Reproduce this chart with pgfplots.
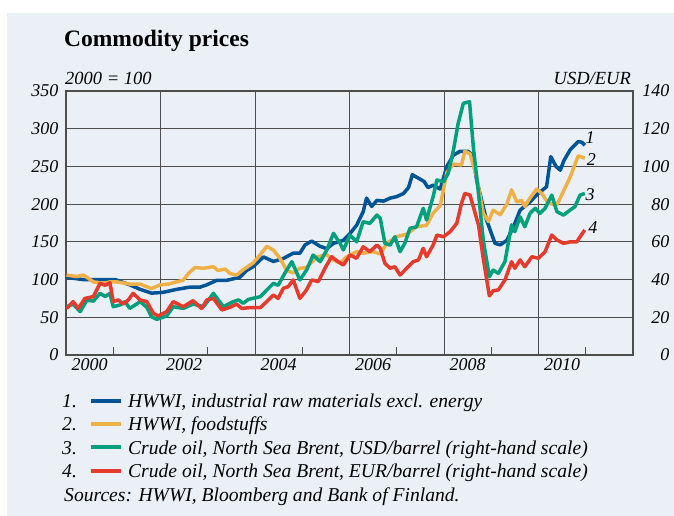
\documentclass[border=0pt]{standalone}
\usepackage{pgfplots}
\pgfplotsset{compat=1.18}
\usepackage{fontspec}
\setmainfont{Liberation Serif}
\definecolor{hwblue}{HTML}{005496}
\definecolor{hwyellow}{HTML}{F0B048}
\definecolor{hwgreen}{HTML}{00A07C}
\definecolor{hwred}{HTML}{E53A2C}
\definecolor{panel}{HTML}{EBF0F7}
\definecolor{gridc}{HTML}{4D4D4D}

\pgfplotstableread{
x y
2000.01 103
2000.36 100
2000.72 100
2001.04 100
2001.35 93
2001.57 87
2001.81 82
2002.05 83
2002.34 87
2002.62 90
2002.84 90
2002.98 93
2003.19 99
2003.40 99
2003.68 103
2003.82 112
2003.96 117
2004.18 130
2004.39 124
2004.60 128
2004.81 135
2004.95 135
2005.06 146
2005.20 151
2005.38 144
2005.52 141
2005.66 148
2005.87 152
2006.01 161
2006.15 172
2006.29 190
2006.36 208
2006.47 197
2006.58 205
2006.72 204
2006.86 208
2007.00 210
2007.14 214
2007.25 222
2007.33 239
2007.47 234
2007.58 230
2007.66 222
2007.77 225
2007.92 220
2008.06 250
2008.20 265
2008.34 270
2008.51 270
2008.61 265
2008.69 232
2008.90 179
2009.08 148
2009.19 146
2009.33 152
2009.47 170
2009.61 192
2009.82 203
2009.99 214
2010.17 223
2010.26 263
2010.37 250
2010.46 245
2010.54 258
2010.67 272
2010.84 283
2010.92 282
2010.98 278
}\bluetab

\pgfplotstableread{
x y
2000.01 106
2000.23 104
2000.37 106
2000.58 97
2000.79 95
2000.93 97
2001.07 97
2001.35 94
2001.57 94
2001.81 88
2001.99 93
2002.17 94
2002.34 97
2002.48 99
2002.59 108
2002.73 116
2002.91 115
2003.12 117
2003.22 112
2003.37 114
2003.47 108
2003.61 106
2003.75 113
2003.96 122
2004.11 133
2004.25 144
2004.39 139
2004.53 128
2004.67 112
2004.81 109
2004.95 115
2005.09 116
2005.31 130
2005.52 133
2005.66 126
2005.80 122
2005.94 130
2006.15 137
2006.29 135
2006.50 137
2006.65 134
2006.79 148
2007.00 157
2007.21 160
2007.42 170
2007.63 172
2007.77 188
2007.92 198
2008.06 242
2008.20 253
2008.37 252
2008.44 270
2008.55 267
2008.69 236
2008.83 188
2008.94 177
2009.04 192
2009.19 186
2009.33 200
2009.43 219
2009.54 203
2009.64 205
2009.71 197
2009.82 208
2009.96 220
2010.07 214
2010.21 201
2010.39 199
2010.49 212
2010.67 236
2010.84 264
2010.98 261
}\yellowtab

\pgfplotstableread{
x y
2000.01 25.6
2000.15 27
2000.30 23
2000.44 29
2000.58 28.6
2000.72 32.7
2000.83 31
2000.93 32.7
2001.00 25.6
2001.14 26.5
2001.25 28.3
2001.35 24.7
2001.57 28.3
2001.71 25.3
2001.81 20.3
2001.92 18.9
2002.13 20.7
2002.27 25.6
2002.48 24.7
2002.69 27
2002.91 25.6
2003.12 32.7
2003.33 25.6
2003.54 28.3
2003.65 29.2
2003.75 27.4
2003.86 29.5
2004.11 30.9
2004.25 34.5
2004.39 38
2004.49 37
2004.63 43.3
2004.78 49.5
2004.95 39.8
2005.09 45
2005.23 53
2005.38 49.5
2005.52 55.7
2005.66 64.5
2005.80 59.2
2005.87 55.7
2006.01 63.6
2006.15 60
2006.29 70.7
2006.43 69.8
2006.58 74.2
2006.65 72.5
2006.75 59.2
2006.86 58.3
2006.96 62.7
2007.07 54.8
2007.17 59.2
2007.28 67.2
2007.42 68
2007.56 77.8
2007.63 71.6
2007.77 84
2007.85 92.8
2007.99 91.9
2008.09 96.4
2008.20 108.7
2008.30 122.9
2008.41 133.5
2008.54 134.3
2008.62 110.5
2008.73 85.7
2008.83 61
2008.96 41.5
2009.04 45
2009.15 43.3
2009.29 49.5
2009.43 69
2009.50 65.4
2009.61 73.3
2009.71 68
2009.82 75.1
2009.93 77.8
2010.03 75.1
2010.14 77.8
2010.28 84.8
2010.39 76
2010.53 74.2
2010.67 76.9
2010.77 78.6
2010.88 84.8
2010.98 85.7
}\greentab

\pgfplotstableread{
x y
2000.01 24.7
2000.15 28.3
2000.26 24.7
2000.40 30
2000.58 31
2000.72 38
2000.83 37
2000.93 38.3
2001.00 28.3
2001.11 29.2
2001.21 27
2001.32 29.2
2001.42 32.7
2001.57 29.2
2001.71 28.3
2001.85 22.1
2001.95 20.7
2002.13 23
2002.27 28.3
2002.48 25.6
2002.69 28.8
2002.87 24.7
2002.98 29.2
2003.12 30
2003.30 23.9
2003.47 25.3
2003.61 27
2003.72 24.7
2003.89 25.1
2004.11 25.1
2004.25 28.3
2004.39 31.8
2004.49 30
2004.60 35.4
2004.70 36.2
2004.81 39.8
2004.95 30
2005.09 34.5
2005.20 39.8
2005.34 38.9
2005.48 46
2005.62 52.1
2005.76 49.5
2005.87 47.7
2006.01 53
2006.15 51.3
2006.29 57.4
2006.43 54.8
2006.58 58.3
2006.65 56.6
2006.75 48.6
2006.86 46
2006.96 46.8
2007.07 42.4
2007.21 46
2007.35 49.5
2007.46 50.4
2007.56 56.6
2007.63 52.1
2007.77 58.3
2007.85 63.6
2007.99 62.7
2008.13 65.4
2008.27 69.8
2008.37 80.4
2008.44 85.7
2008.55 84.8
2008.62 78.6
2008.73 68.9
2008.83 51.3
2008.96 31.3
2009.04 34.1
2009.15 34.5
2009.29 39.8
2009.43 49.5
2009.50 46
2009.61 50.4
2009.71 46.8
2009.86 52.1
2010.00 51.3
2010.14 54.8
2010.28 63.6
2010.39 61
2010.53 59.2
2010.67 60
2010.81 60
2010.88 62.7
2010.98 66.3
}\redtab

\begin{document}
\begin{tikzpicture}[x=1pt,y=1pt]
\fill[white] (0,0) rectangle (674,516);
\fill[panel] (7,0) rectangle (674,503);
\node[anchor=base west, inner sep=0pt, font=\fontsize{23.5}{28}\selectfont\bfseries] at (64,469) {Commodity prices};
\node[anchor=base west, inner sep=0pt, font=\fontsize{18.5}{22}\selectfont\itshape] at (65,431.5) {2000 = 100};
\node[anchor=base east, inner sep=0pt, font=\fontsize{18.5}{22}\selectfont\itshape] at (631,431) {USD/EUR};
\node[anchor=base west, inner sep=0pt, font=\fontsize{19.6}{23}\selectfont\itshape] at (64,14.6) {Sources: HWWI, Bloomberg and Bank of Finland.};

\begin{axis}[
  at={(66pt,161pt)}, anchor=south west,
  width=567pt, height=264pt, scale only axis,
  xmin=2000, xmax=2012, ymin=0, ymax=350,
  axis line style={draw=gridc, line width=1.3pt},
  grid style={draw=gridc, line width=0.8pt},
  xtick={2000.5,2002.5,2004.5,2006.5,2008.5,2010.5},
  xticklabels={2000,2002,2004,2006,2008,2010},
  major tick length=0pt,
  minor xtick={2001,2003,2005,2007,2009,2011},
  minor tick length=8pt,
  tick align=inside,
  xtick pos=left, ytick pos=left,
  tick style={draw=gridc, line width=1pt},
  extra x ticks={2002,2004,2006,2008,2010},
  extra x tick labels={},
  extra x tick style={grid=major},
  ytick={0,50,...,350},
  ymajorgrids=true,
  yticklabel style={xshift=-4pt},
  ticklabel style={font=\fontsize{18}{20}\selectfont\itshape},
  /pgf/number format/assume math mode=true,
  clip=false,
]
\addplot[hwblue, line width=3.5pt, line join=round] table[x=x,y=y] {\bluetab};
\addplot[hwyellow, line width=3.5pt, line join=round] table[x=x,y=y] {\yellowtab};
\node[font=\fontsize{18}{20}\selectfont\itshape] at (axis cs:2011.09,287.7) {1};
\node[font=\fontsize{18}{20}\selectfont\itshape] at (axis cs:2011.12,258.5) {2};
\node[font=\fontsize{18}{20}\selectfont\itshape] at (axis cs:2011.09,212.1) {3};
\node[font=\fontsize{18}{20}\selectfont\itshape] at (axis cs:2011.15,168.4) {4};
\end{axis}

\begin{axis}[
  at={(66pt,161pt)}, anchor=south west,
  width=567pt, height=264pt, scale only axis,
  xmin=2000, xmax=2012, ymin=0, ymax=140,
  hide x axis,
  axis line style={draw=none},
  ytick={0,20,...,140},
  major tick length=0pt,
  ytick pos=right, yticklabel pos=right,
  yticklabel style={anchor=east, xshift=40pt},
  ticklabel style={font=\fontsize{18}{20}\selectfont\itshape},
  /pgf/number format/assume math mode=true,
  legend style={at={(-0.0070,-0.128)}, anchor=north west, draw=none, fill=none,
    font=\fontsize{19.6}{23}\selectfont\itshape, row sep=0pt, inner sep=0pt,
    nodes={inner sep=0pt, text height=18.3pt, text depth=5.1pt},
    /tikz/every odd column/.append style={column sep=5pt}},
  legend cell align=left,
]
\addplot[hwgreen, line width=3.5pt, line join=round, forget plot] table[x=x,y=y] {\greentab};
\addplot[hwred, line width=3.5pt, line join=round, forget plot] table[x=x,y=y] {\redtab};
\addlegendimage{legend image code/.code={\node[anchor=base east, inner sep=0pt, text height=, text depth=, font=\fontsize{19.6}{23}\selectfont\itshape] at (-14pt,-6.6pt) {1.}; \draw[hwblue, line width=4pt] (0pt,0pt) -- (30pt,0pt);}}
\addlegendentry{HWWI, industrial raw materials excl. energy}
\addlegendimage{legend image code/.code={\node[anchor=base east, inner sep=0pt, text height=, text depth=, font=\fontsize{19.6}{23}\selectfont\itshape] at (-14pt,-6.6pt) {2.}; \draw[hwyellow, line width=4pt] (0pt,0pt) -- (30pt,0pt);}}
\addlegendentry{HWWI, foodstuffs}
\addlegendimage{legend image code/.code={\node[anchor=base east, inner sep=0pt, text height=, text depth=, font=\fontsize{19.6}{23}\selectfont\itshape] at (-14pt,-6.6pt) {3.}; \draw[hwgreen, line width=4pt] (0pt,0pt) -- (30pt,0pt);}}
\addlegendentry{Crude oil, North Sea Brent, USD/barrel (right-hand scale)}
\addlegendimage{legend image code/.code={\node[anchor=base east, inner sep=0pt, text height=, text depth=, font=\fontsize{19.6}{23}\selectfont\itshape] at (-14pt,-6.6pt) {4.}; \draw[hwred, line width=4pt] (0pt,0pt) -- (30pt,0pt);}}
\addlegendentry{Crude oil, North Sea Brent, EUR/barrel (right-hand scale)}
\end{axis}
\end{tikzpicture}
\end{document}
